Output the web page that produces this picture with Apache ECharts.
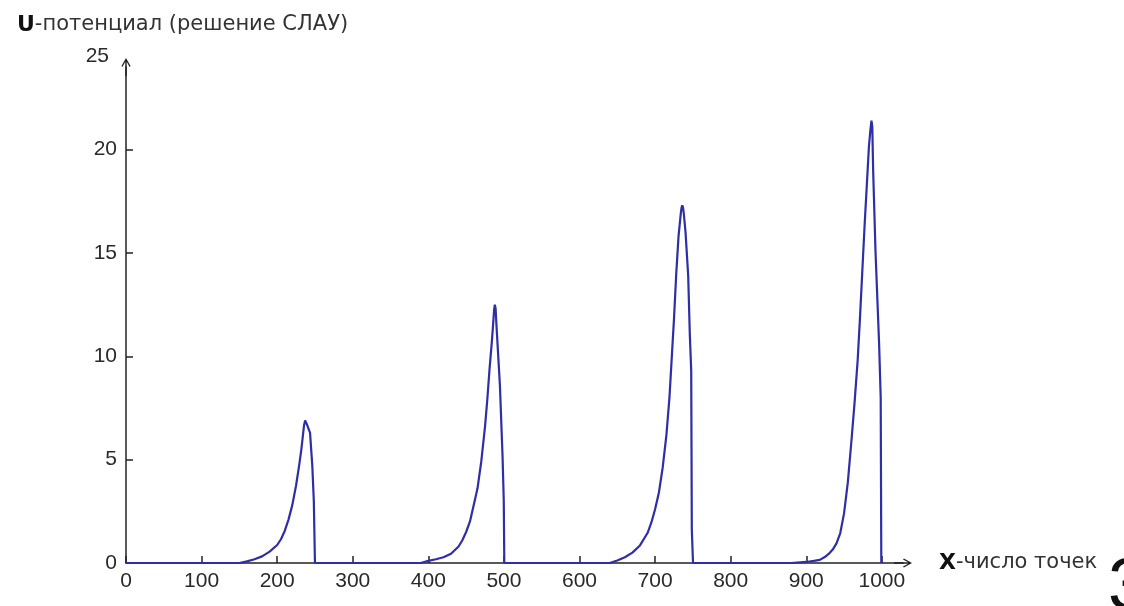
<!DOCTYPE html>
<html>
<head>
<meta charset="utf-8">
<title>U-потенциал</title>
<script src="https://cdn.jsdelivr.net/npm/echarts@6/dist/echarts.min.js"></script>
<style>
    html, body { margin: 0; padding: 0; background: #fff; }
    #main { width: 1124px; height: 606px; }
</style>
</head>
<body>
<div id="main"></div>
<script>
// подписи осей
var xTicks = [0, 100, 200, 300, 400, 500, 600, 700, 800, 900, 1000];
var uTicks = [0, 5, 10, 15, 20];

// пик 1
var peak1X = [150, 160, 170, 180, 190, 200, 205, 210, 215, 220, 225, 229, 232, 234, 235.5, 237, 238.5, 240, 243.5, 246.5, 248.5, 250];
var peak1U = [0, 0.08, 0.18, 0.32, 0.55, 0.87, 1.15, 1.55, 2.1, 2.8, 3.75, 4.7, 5.5, 6.15, 6.65, 6.9, 6.85, 6.65, 6.3, 4.7, 3.0, 0];
// пик 2
var peak2X = [390, 400, 410, 420, 430, 440, 445, 450, 455, 460, 465, 470, 475, 478, 481, 484, 486, 487, 488, 489, 490.3, 494.7, 498.2, 499.8, 500.5];
var peak2U = [0, 0.1, 0.18, 0.28, 0.45, 0.8, 1.1, 1.5, 2.0, 2.8, 3.6, 4.9, 6.6, 7.9, 9.4, 10.7, 11.7, 12.25, 12.5, 12.3, 11.4, 8.6, 5.15, 3.0, 0];
// пик 3
var peak3X = [640, 650, 660, 670, 680, 690, 695, 700, 705, 710, 715, 719, 722, 725, 728, 731, 734, 735, 736, 737, 738, 740.3, 743.8, 746, 747.8, 748.6, 750.2];
var peak3U = [0, 0.12, 0.28, 0.5, 0.85, 1.45, 1.95, 2.6, 3.4, 4.6, 6.2, 8.0, 9.9, 11.8, 14.0, 15.8, 16.9, 17.2, 17.3, 17.2, 16.9, 16.0, 13.9, 11.0, 9.3, 1.6, 0];
// пик 4
var peak4X = [880, 900, 910, 918, 925, 930, 935, 940, 945, 950, 955, 960, 964, 968, 971, 974, 977, 980, 983, 985, 986.3, 987.4, 988.5, 991.6, 996.4, 998.5, 999.3];
var peak4U = [0, 0.05, 0.1, 0.15, 0.3, 0.45, 0.65, 0.95, 1.45, 2.4, 3.9, 6.0, 7.8, 9.8, 11.8, 14.0, 16.2, 18.2, 20.2, 21.0, 21.4, 21.1, 19.0, 15.1, 10.6, 8.0, 0];

(function(){
    var chart = echarts.init(document.getElementById('main'));

    // собираем точки кривой
    var points = [[0, 0]];
    [[peak1X, peak1U], [peak2X, peak2U], [peak3X, peak3U], [peak4X, peak4U]].forEach(function(p){
        for(var i = 0; i < p[0].length; i++){
            points.push([p[0][i], p[1][i]]);
        }
    });

    // открытая стрелка на конце оси
    var arrow = 'path://M5,0 L10,9 L9,10 L5.8,4.2 L5.8,20 L4.2,20 L4.2,4.2 L1,10 L0,9 Z';
    var axisColor = '#222';
    var labelFont = 'Liberation Sans, Arial, sans-serif';
    var nameFont = 'DejaVu Sans, sans-serif';
    var plain = function(v){ return String(v); };

    var option = {
        animation: false,
        backgroundColor: '#fff',
        title: {
            text: '{u|U}-потенциал (решение СЛАУ)',
            left: 12,
            top: 9,
            textStyle: {
                fontFamily: nameFont,
                fontSize: 21,
                fontWeight: 'normal',
                color: '#333',
                rich: {
                    u: { fontFamily: nameFont, fontSize: 22, fontWeight: 'bold', color: '#111' }
                }
            }
        },
        grid: {
            left: 126,
            right: 221,
            top: 67,
            bottom: 43
        },
        xAxis: {
            type: 'value',
            min: 0,
            max: 1028,
            name: '{x|X}-число точек',
            nameLocation: 'end',
            nameGap: 36,
            nameTextStyle: {
                fontFamily: nameFont,
                fontSize: 21,
                color: '#333',
                align: 'left',
                verticalAlign: 'middle',
                rich: {
                    x: { fontFamily: nameFont, fontSize: 22, fontWeight: 'bold', color: '#111' }
                }
            },
            axisLine: {
                show: true,
                symbol: ['none', arrow],
                symbolSize: [9, 20],
                lineStyle: { color: axisColor, width: 1.5 }
            },
            axisTick: {
                show: true,
                inside: true,
                length: 7,
                customValues: xTicks,
                lineStyle: { color: axisColor, width: 1.5 }
            },
            axisLabel: {
                customValues: xTicks,
                formatter: plain,
                margin: 8,
                fontFamily: labelFont,
                fontSize: 21,
                color: '#2a2a2a'
            },
            splitLine: { show: false }
        },
        yAxis: {
            type: 'value',
            min: 0,
            max: 24,
            name: '25',
            nameLocation: 'end',
            nameGap: 11,
            nameTextStyle: {
                fontFamily: labelFont,
                fontSize: 21,
                color: '#2a2a2a',
                align: 'right',
                verticalAlign: 'middle',
                padding: [0, 17, 0, 0]
            },
            axisLine: {
                show: true,
                symbol: ['none', arrow],
                symbolSize: [9, 20],
                lineStyle: { color: axisColor, width: 1.5 }
            },
            axisTick: {
                show: true,
                inside: true,
                length: 7,
                customValues: uTicks,
                lineStyle: { color: axisColor, width: 1.5 }
            },
            axisLabel: {
                customValues: uTicks,
                formatter: plain,
                margin: 9,
                fontFamily: labelFont,
                fontSize: 21,
                color: '#2a2a2a'
            },
            splitLine: { show: false }
        },
        graphic: [{
            type: 'text',
            left: 1108,
            top: 553,
            style: {
                text: '3',
                fontFamily: labelFont,
                fontSize: 72,
                fill: '#111'
            }
        }],
        series: [{
            type: 'line',
            data: points,
            showSymbol: false,
            clip: false,
            lineStyle: { color: '#2e2ea6', width: 2.2 },
            z: 5
        }]
    };
    chart.setOption(option);
})();
</script>
</body>
</html>
